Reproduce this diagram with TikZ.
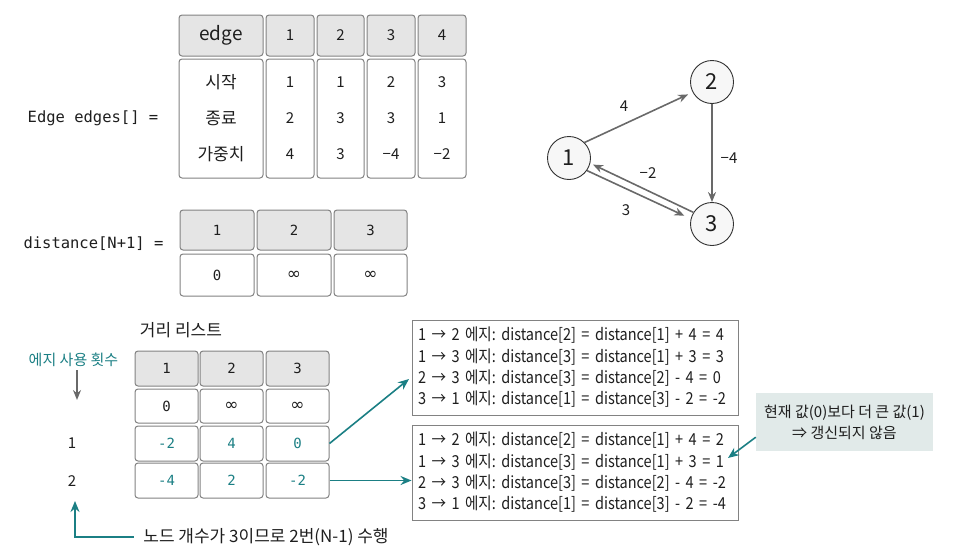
\documentclass[tikz,border=0pt]{standalone}
\usepackage{fontspec}
\setmainfont{Noto Sans CJK KR}
\setmonofont{DejaVu Sans Mono}
\newfontfamily\boxfont[FakeStretch=0.88]{Noto Sans CJK KR}
\newfontfamily\symfont{DejaVu Sans}
\usetikzlibrary{positioning,arrows,arrows.meta,calc}

\definecolor{tealc}{RGB}{27,127,132}
\definecolor{arrgray}{RGB}{105,105,105}
\definecolor{cellgray}{RGB}{130,130,130}
\definecolor{hdgray}{RGB}{229,229,229}
\definecolor{notefill}{RGB}{225,234,233}
\definecolor{txt}{RGB}{30,30,30}

\newcommand{\inft}{{\symfont\fontsize{17}{17}\selectfont ∞}}

\begin{document}
\frenchspacing
\begin{tikzpicture}[x=1pt,y=-1pt,text=txt,
	cell/.style={draw=cellgray, line width=1pt, rounded corners=3pt, fill=white, inner sep=0pt},
	hcell/.style={cell, fill=hdgray},
	vnode/.style={circle, draw=black!80, line width=0.9pt, fill=black!3, minimum size=43pt, inner sep=0pt, font=\fontsize{22}{22}\selectfont},
	garrow/.style={draw=arrgray, line width=1.6pt, ->, >={Stealth[length=10pt,width=8pt]}},
	tarrow/.style={draw=tealc, line width=1.6pt, ->, >={Stealth[length=11pt,width=9pt]}},
	ubox/.style={draw=cellgray, line width=0.9pt, minimum width=326, minimum height=95, text width=314, align=left, font=\boxfont\fontsize{16.5}{21.3}\selectfont},
	elab/.style={font=\fontsize{15}{15}\selectfont},
	mono/.style={font=\ttfamily\fontsize{14}{14}\selectfont}
]
	\useasboundingbox (0,0) rectangle (956,557);

	% edge table
	\node[font=\ttfamily\fontsize{15.5}{15.5}\selectfont] (edgelab) at (93,118) {Edge edges[] =};
	\node[hcell, minimum width=84, minimum height=41, font=\fontsize{19}{19}\selectfont] (ehead) at (221,35.5) {edge};
	\node[hcell, minimum width=48, minimum height=41, elab] (eh1) at (290,35.5) {1};
	\node[hcell, minimum width=47, minimum height=41, elab] (eh2) at (340.5,35.5) {2};
	\node[hcell, minimum width=48, minimum height=41, elab] (eh3) at (391,35.5) {3};
	\node[hcell, minimum width=48, minimum height=41, elab] (eh4) at (442,35.5) {4};
	\node[cell, minimum width=84, minimum height=119, align=center, font=\fontsize{17}{36}\selectfont] (ebody) at (221,118.5) {시작\\종료\\가중치};
	\node[cell, minimum width=48, minimum height=119, align=center, font=\fontsize{15}{36}\selectfont] (eb1) at (290,118.5) {1\\2\\4};
	\node[cell, minimum width=47, minimum height=119, align=center, font=\fontsize{15}{36}\selectfont] (eb2) at (340.5,118.5) {1\\3\\3};
	\node[cell, minimum width=48, minimum height=119, align=center, font=\fontsize{15}{36}\selectfont] (eb3) at (391,118.5) {2\\3\\−4};
	\node[cell, minimum width=48, minimum height=119, align=center, font=\fontsize{15}{36}\selectfont] (eb4) at (442,118.5) {3\\1\\−2};

	% distance array
	\node[font=\ttfamily\fontsize{15.5}{15.5}\selectfont] (distlab) at (93.5,244) {distance[N+1] =};
	\node[hcell, minimum width=74, minimum height=40, mono] (dh1) at (217,230) {1};
	\node[hcell, minimum width=74, minimum height=40, mono] (dh2) at (294,230) {2};
	\node[hcell, minimum width=73, minimum height=40, mono] (dh3) at (370.5,230) {3};
	\node[cell, minimum width=74, minimum height=42, mono] (dv1) at (217,275) {0};
	\node[cell, minimum width=74, minimum height=42, mono] (dv2) at (294,275) {\inft};
	\node[cell, minimum width=73, minimum height=42, mono] (dv3) at (370.5,275) {\inft};

	% graph
	\node[vnode] (n1) at (569,158) {1};
	\node[vnode] (n2) at (712,82) {2};
	\node[vnode] (n3) at (712,224) {3};
	\draw[garrow, shorten >=5pt] (n1.45) -- (n2.208);
	\draw[garrow] (n2.south) -- (n3.north);
	\draw[garrow, shorten >=7pt] (n1.-35) -- (n3.166);
	\draw[garrow, shorten >=3pt] (n3.148) -- (n1.-14);
	\node[elab] (w12) at (624,106) {4};
	\node[elab] (w23) at (729,158) {−4};
	\node[elab] (w31) at (648,173) {−2};
	\node[elab] (w13) at (626,210) {3};

	% distance list per round
	\node[font=\fontsize{17}{17}\selectfont] (listlab) at (181,330) {거리 리스트};
	\node[text=tealc, font=\fontsize{15}{15}\selectfont] (cntlab) at (73.5,360) {에지 사용 횟수};
	\coordinate (cdown) at (77,400);
	\draw[garrow] (cntlab.south -| cdown) -- (cdown);
	\node[elab] (cnt1) at (72,443) {1};
	\node[elab] (cnt2) at (72,481) {2};

	\node[hcell, minimum width=63, minimum height=35, mono] (bh1) at (166.5,368.5) {1};
	\node[hcell, minimum width=63, minimum height=35, mono] (bh2) at (231.5,368.5) {2};
	\node[hcell, minimum width=63, minimum height=35, mono] (bh3) at (297.5,368.5) {3};
	\node[cell, minimum width=63, minimum height=34, mono] (b01) at (166.5,406) {0};
	\node[cell, minimum width=63, minimum height=34, mono] (b02) at (231.5,406) {\inft};
	\node[cell, minimum width=63, minimum height=34, mono] (b03) at (297.5,406) {\inft};
	\node[cell, minimum width=63, minimum height=35, mono, text=tealc] (b11) at (166.5,443.5) {-2};
	\node[cell, minimum width=63, minimum height=35, mono, text=tealc] (b12) at (231.5,443.5) {4};
	\node[cell, minimum width=63, minimum height=35, mono, text=tealc] (b13) at (297.5,443.5) {0};
	\node[cell, minimum width=63, minimum height=35, mono, text=tealc] (b21) at (166.5,480.5) {-4};
	\node[cell, minimum width=63, minimum height=35, mono, text=tealc] (b22) at (231.5,480.5) {2};
	\node[cell, minimum width=63, minimum height=35, mono, text=tealc] (b23) at (297.5,480.5) {-2};

	\node[font=\fontsize{17}{17}\selectfont] (rounds) at (266,537) {노드 개수가 3이므로 2번(N-1) 수행};
	\coordinate (cup) at (75,501);
	\draw[tarrow] ([xshift=-6pt]rounds.west) -| (cup);

	% update boxes
	\node[ubox] (upd1) at (575,367.5) {1 → 2 에지: distance[2] = distance[1] + 4 = 4\\1 → 3 에지: distance[3] = distance[1] + 3 = 3\\2 → 3 에지: distance[3] = distance[2] - 4 = 0\\3 → 1 에지: distance[1] = distance[3] - 2 = -2};
	\node[ubox] (upd2) at (575,472.5) {1 → 2 에지: distance[2] = distance[1] + 4 = 2\\1 → 3 에지: distance[3] = distance[1] + 3 = 1\\2 → 3 에지: distance[3] = distance[2] - 4 = -2\\3 → 1 에지: distance[1] = distance[3] - 2 = -4};
	\coordinate (tip1) at (409,379);
	\draw[tarrow] (b13.east) -- (tip1);
	\draw[tarrow] (b23.east) -- (b23.east -| upd2.west);

	% note
	\node[fill=notefill, minimum width=177, minimum height=58, align=center, font=\fontsize{15}{21}\selectfont] (note) at (844.5,422) {현재 값(0)보다 더 큰 값(1)\\⇒ 갱신되지 않음};
	\coordinate (tip2) at (728,458);
	\draw[tarrow] ($(note.south west)+(0,-14)$) -- (tip2);
\end{tikzpicture}
\end{document}
